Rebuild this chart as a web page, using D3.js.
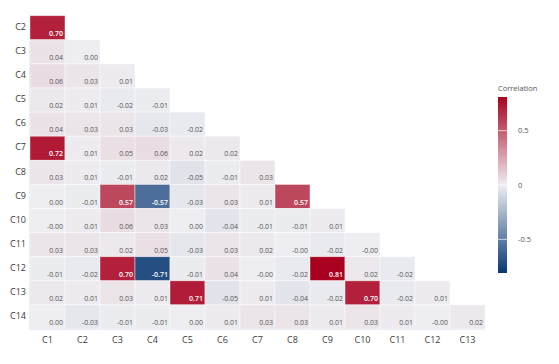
<!DOCTYPE html>
<html lang="en">
<head>
    <meta charset="UTF-8">
    <title>Correlation</title>
    <style>
        body { margin: 0; overflow: hidden; background: #fff; }
        text { font-family: "Segoe UI", "Open Sans", "Noto Sans", sans-serif; }
    </style>
</head>
<body>
    <svg id="chart"></svg>
    <script src="https://cdn.jsdelivr.net/npm/d3@7"></script>
    <script>
        const cols = ["C1", "C2", "C3", "C4", "C5", "C6", "C7", "C8", "C9", "C10", "C11", "C12", "C13"];
        const rows = ["C2", "C3", "C4", "C5", "C6", "C7", "C8", "C9", "C10", "C11", "C12", "C13", "C14"];
        // lower triangle, one list per row (C1 .. row-1)
        const values = [
            [0.70],
            [0.04, 0.00],
            [0.06, 0.03, 0.01],
            [0.02, 0.01, -0.02, -0.01],
            [0.04, 0.03, 0.03, -0.03, -0.02],
            [0.72, 0.01, 0.05, 0.06, 0.02, 0.02],
            [0.03, 0.01, -0.01, 0.02, -0.05, -0.01, 0.03],
            [0.00, -0.01, 0.57, -0.57, -0.03, 0.03, 0.01, 0.57],
            [-0.00, 0.01, 0.06, 0.03, 0.00, -0.04, -0.01, -0.01, 0.01],
            [0.03, 0.03, 0.02, 0.05, -0.03, 0.03, 0.02, -0.00, -0.02, -0.00],
            [-0.01, -0.02, 0.70, -0.71, -0.01, 0.04, -0.00, -0.02, 0.81, 0.02, -0.02],
            [0.02, 0.01, 0.03, 0.01, 0.71, -0.05, 0.01, -0.04, -0.02, 0.70, -0.02, 0.01],
            [0.00, -0.03, -0.01, -0.01, 0.00, 0.01, 0.03, 0.03, 0.01, 0.03, 0.01, -0.00, 0.02]
        ];
        const legendTicks = [0.5, 0, -0.5];

        const W = 559, H = 364;
        const svg = d3.select("#chart").attr("width", W).attr("height", H);

        const cells = [];
        values.forEach((r, i) => r.forEach((v, j) => cells.push({ row: rows[i], col: cols[j], v })));

        // keep the sign of -0.00 like the source table does
        const fmt = v => (v < 0 || Object.is(v, -0) ? "-" : "") + Math.abs(v).toFixed(2);

        const x = d3.scaleBand().domain(cols).range([30, 485]);
        const y = d3.scaleBand().domain(rows).range([15.7, 329]);
        const vmax = 0.81;
        const color = d3.scaleLinear()
            .domain([-vmax, 0, vmax])
            .range(["#083872", "#eeeef2", "#a8001e"]);

        // faint frame on left and bottom
        svg.append("line").attr("x1", 30).attr("x2", 30).attr("y1", 15.7).attr("y2", 329)
            .attr("stroke", "#dbe2ee").attr("stroke-width", 1.5);
        svg.append("line").attr("x1", 30).attr("x2", 485).attr("y1", 329).attr("y2", 329)
            .attr("stroke", "#dbe2ee").attr("stroke-width", 1.5);

        const g = svg.append("g");
        g.selectAll("rect")
            .data(cells)
            .enter()
            .append("rect")
            .attr("x", d => x(d.col))
            .attr("y", d => y(d.row))
            .attr("width", x.bandwidth())
            .attr("height", y.bandwidth())
            .attr("fill", d => color(d.v))
            .attr("stroke", "#fff")
            .attr("stroke-opacity", 0.55)
            .attr("stroke-width", 0.8);

        g.selectAll(".val")
            .data(cells)
            .enter()
            .append("text")
            .attr("class", "val")
            .attr("x", d => x(d.col) + x.bandwidth() - 2)
            .attr("y", d => y(d.row) + y.bandwidth() - 4)
            .attr("text-anchor", "end")
            .attr("font-size", 7)
            .attr("fill", d => Math.abs(d.v) > 0.4 ? "#fff" : "#555")
            .attr("font-weight", d => Math.abs(d.v) > 0.4 ? 600 : 400)
            .text(d => fmt(d.v));

        // axis labels
        svg.append("g").selectAll("text")
            .data(rows)
            .enter()
            .append("text")
            .attr("x", 26)
            .attr("y", d => y(d) + y.bandwidth() / 2 - 1)
            .attr("dy", "0.35em")
            .attr("text-anchor", "end")
            .attr("font-size", 9)
            .attr("fill", "#3a3a3a")
            .text(d => d);

        svg.append("g").selectAll("text")
            .data(cols)
            .enter()
            .append("text")
            .attr("x", d => x(d) + x.bandwidth() / 2)
            .attr("y", 343)
            .attr("text-anchor", "middle")
            .attr("font-size", 9)
            .attr("fill", "#3a3a3a")
            .text(d => d);

        // legend
        const ly = d3.scaleLinear().domain([-vmax, vmax]).range([273, 97]);
        const defs = svg.append("defs");
        const grad = defs.append("linearGradient").attr("id", "lg")
            .attr("x1", 0).attr("x2", 0).attr("y1", 1).attr("y2", 0);
        d3.range(0, 1.001, 0.1).forEach(t => {
            grad.append("stop").attr("offset", t).attr("stop-color", color(-vmax + 2 * vmax * t));
        });
        const leg = svg.append("g");
        leg.append("rect")
            .attr("x", 498).attr("y", ly(vmax))
            .attr("width", 9).attr("height", ly(-vmax) - ly(vmax))
            .attr("fill", "url(#lg)");
        leg.selectAll("line")
            .data(legendTicks)
            .enter()
            .append("line")
            .attr("x1", 498).attr("x2", 507)
            .attr("y1", d => ly(d)).attr("y2", d => ly(d))
            .attr("stroke", "#fff").attr("stroke-opacity", 0.7);
        leg.selectAll(".tick")
            .data(legendTicks)
            .enter()
            .append("text")
            .attr("class", "tick")
            .attr("x", 518)
            .attr("y", d => ly(d))
            .attr("dy", "0.35em")
            .attr("font-size", 7.5)
            .attr("fill", "#555")
            .text(d => d);
        leg.append("text")
            .attr("x", 498).attr("y", 91)
            .attr("font-size", 7.5)
            .attr("fill", "#555")
            .text("Correlation");
    </script>
</body>
</html>
